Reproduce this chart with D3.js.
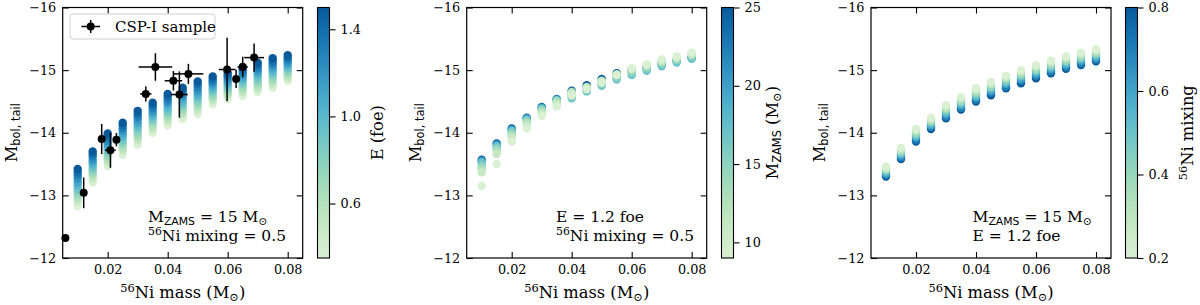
<!DOCTYPE html>
<html>
<head>
<meta charset="utf-8">
<script src="https://cdn.jsdelivr.net/npm/d3@7"></script>
<style>
  html, body { margin: 0; padding: 0; background: #fff; }
  svg { display: block; }
  text { font-family: "DejaVu Serif", serif; fill: #000; }
</style>
</head>
<body>
<svg id="chart" width="1200" height="305"></svg>
<script>
// ---------------- data ----------------
const niMass = [0.01, 0.015, 0.02, 0.025, 0.03, 0.035, 0.04, 0.045, 0.05, 0.055, 0.06, 0.065, 0.07, 0.075, 0.08];

// Panel 1: explosion energy (foe) grid, magnitudes per Ni mass (rows) and energy (columns)
const energyLevels = [0.35, 0.5, 0.6, 0.7, 0.8, 0.9, 1.0, 1.1, 1.2, 1.3, 1.4, 1.5];
const magByEnergy = [
  [-12.83, -12.91, -12.96, -13.01, -13.06, -13.11, -13.16, -13.21, -13.27, -13.32, -13.37, -13.42],
  [-13.21, -13.27, -13.32, -13.36, -13.40, -13.44, -13.49, -13.53, -13.57, -13.62, -13.66, -13.70],
  [-13.47, -13.54, -13.58, -13.63, -13.67, -13.72, -13.76, -13.81, -13.85, -13.90, -13.95, -13.99],
  [-13.65, -13.72, -13.76, -13.81, -13.85, -13.89, -13.94, -13.98, -14.03, -14.07, -14.12, -14.16],
  [-13.81, -13.88, -13.93, -13.97, -14.02, -14.07, -14.12, -14.16, -14.21, -14.26, -14.30, -14.35],
  [-14.00, -14.06, -14.10, -14.15, -14.19, -14.23, -14.27, -14.31, -14.35, -14.40, -14.44, -14.48],
  [-14.12, -14.19, -14.23, -14.27, -14.32, -14.36, -14.40, -14.45, -14.49, -14.53, -14.58, -14.62],
  [-14.22, -14.29, -14.33, -14.37, -14.42, -14.46, -14.50, -14.55, -14.59, -14.63, -14.68, -14.72],
  [-14.30, -14.37, -14.41, -14.46, -14.50, -14.55, -14.59, -14.64, -14.68, -14.73, -14.78, -14.82],
  [-14.46, -14.52, -14.56, -14.59, -14.63, -14.67, -14.71, -14.75, -14.79, -14.82, -14.86, -14.90],
  [-14.54, -14.60, -14.63, -14.67, -14.70, -14.74, -14.78, -14.81, -14.85, -14.89, -14.92, -14.96],
  [-14.59, -14.65, -14.69, -14.73, -14.77, -14.81, -14.85, -14.89, -14.93, -14.97, -15.01, -15.05],
  [-14.65, -14.71, -14.75, -14.79, -14.83, -14.88, -14.92, -14.96, -15.00, -15.04, -15.08, -15.12],
  [-14.72, -14.78, -14.82, -14.86, -14.90, -14.95, -14.99, -15.03, -15.07, -15.11, -15.15, -15.19],
  [-14.83, -14.88, -14.92, -14.96, -14.99, -15.03, -15.06, -15.10, -15.13, -15.17, -15.20, -15.24]
];

// Panel 2: progenitor mass (M_sun) grid, drawn in this order
const zamsLevels = [25, 20, 17, 15, 13, 11, 9];
const magByZams = [
  [-13.57, -13.55, -13.52, -13.47, -13.42, -13.37, -13.15],
  [-13.83, -13.81, -13.78, -13.75, -13.71, -13.66, -13.50],
  [-14.07, -14.05, -14.03, -14.00, -13.96, -13.92, -13.86],
  [-14.24, -14.23, -14.21, -14.19, -14.16, -14.12, -14.07],
  [-14.41, -14.40, -14.38, -14.37, -14.34, -14.31, -14.27],
  [-14.54, -14.53, -14.52, -14.51, -14.49, -14.46, -14.42],
  [-14.67, -14.62, -14.55, -14.58, -14.65, -14.63, -14.60],
  [-14.76, -14.71, -14.66, -14.68, -14.73, -14.72, -14.70],
  [-14.86, -14.80, -14.75, -14.78, -14.83, -14.82, -14.80],
  [-14.95, -14.90, -14.85, -14.88, -14.93, -14.93, -14.92],
  [-15.00, -14.97, -14.92, -14.96, -15.00, -15.02, -15.03],
  [-15.04, -15.02, -14.99, -15.03, -15.06, -15.08, -15.09],
  [-15.10, -15.08, -15.06, -15.10, -15.13, -15.15, -15.17],
  [-15.15, -15.14, -15.12, -15.16, -15.18, -15.20, -15.22],
  [-15.20, -15.19, -15.18, -15.22, -15.24, -15.26, -15.28]
];

// Panel 3: 56Ni mixing grid, drawn in this order
const mixingLevels = [0.8, 0.7, 0.6, 0.5, 0.4, 0.3, 0.2];
const magByMixing = [
  [-13.30, -13.33, -13.35, -13.38, -13.41, -13.43, -13.46],
  [-13.58, -13.61, -13.64, -13.67, -13.70, -13.73, -13.76],
  [-13.86, -13.89, -13.93, -13.96, -13.99, -14.03, -14.06],
  [-14.06, -14.09, -14.12, -14.15, -14.18, -14.21, -14.24],
  [-14.23, -14.26, -14.30, -14.33, -14.37, -14.40, -14.44],
  [-14.37, -14.40, -14.44, -14.47, -14.50, -14.54, -14.57],
  [-14.50, -14.53, -14.57, -14.60, -14.64, -14.67, -14.71],
  [-14.60, -14.64, -14.67, -14.71, -14.74, -14.78, -14.81],
  [-14.71, -14.74, -14.78, -14.81, -14.85, -14.88, -14.91],
  [-14.79, -14.83, -14.86, -14.90, -14.93, -14.97, -15.00],
  [-14.87, -14.91, -14.94, -14.98, -15.01, -15.05, -15.08],
  [-14.95, -14.98, -15.02, -15.05, -15.08, -15.12, -15.15],
  [-15.02, -15.05, -15.09, -15.12, -15.15, -15.19, -15.22],
  [-15.08, -15.11, -15.15, -15.18, -15.21, -15.25, -15.28],
  [-15.14, -15.17, -15.20, -15.24, -15.27, -15.30, -15.33]
];

// CSP-I sample
const cspNi     = [0.0059, 0.0120, 0.0180, 0.0209, 0.0229, 0.0327, 0.0359, 0.0419, 0.0439, 0.0469, 0.0598, 0.0628, 0.0650, 0.0688];
const cspNiErr  = [0.0000, 0.0004, 0.0006, 0.0018, 0.0008, 0.0019, 0.0056, 0.0029, 0.0028, 0.0050, 0.0028, 0.0010, 0.0017, 0.0033];
const cspMag    = [-12.32, -13.04, -13.90, -13.72, -13.89, -14.62, -15.05, -14.83, -14.61, -14.94, -15.01, -14.86, -15.05, -15.20];
const cspMagErr = [0.00, 0.245, 0.24, 0.28, 0.107, 0.12, 0.22, 0.155, 0.37, 0.16, 0.506, 0.147, 0.165, 0.226];

// ticks
const xTicks = [0.02, 0.04, 0.06, 0.08];
const yTicks = [-16, -15, -14, -13, -12];
const energyTicks = [0.6, 1.0, 1.4];
const zamsTicks = [10, 15, 20, 25];
const mixingTicks = [0.2, 0.4, 0.6, 0.8];

// ---------------- layout ----------------
const svg = d3.select("#chart");
const plotTop = 7.5, plotH = 250.5, plotW = 240;
const panelLeft = [62.7, 466.7, 871];
const cbLeft = [317.5, 721.5, 1125.5];
const cbW = 12;
const tickLen = 6;
const tickFs = 12.8;
const labelFs = 16.3;
const serif = "'DejaVu Serif', serif";

function gnbu(t) { return d3.interpolateGnBu(0.17 + 0.75 * t); }

function richText(sel, parts, fs) {
  let shift = 0;
  parts.forEach(p => {
    const ts = sel.append("tspan").text(p.t);
    let target = 0, size = fs;
    if (p.sup) { target = -0.36 * fs; size = 0.7 * fs; }
    if (p.sub) { target = 0.2 * fs; size = 0.7 * fs; }
    ts.attr("font-size", size).attr("dy", target - shift);
    if (p.sans) ts.style("font-family", "'DejaVu Sans', sans-serif");
    shift = target;
  });
}

function styleAxis(a) {
  a.attr("font-family", serif).attr("font-size", tickFs);
  a.select(".domain").remove();
  a.selectAll(".tick line").attr("stroke", "#000").attr("stroke-width", 1.1);
  a.selectAll(".tick text").style("font-family", serif).attr("font-size", tickFs).attr("fill", "#000");
}

function buildPanel(i, cfg) {
  const left = panelLeft[i];
  const x = d3.scaleLinear().domain([0.005, 0.085]).range([left, left + plotW]);
  const y = d3.scaleLinear().domain([-16, -12]).range([plotTop, plotTop + plotH]);
  const g = svg.append("g");

  // model points
  const cscale = d3.scaleLinear().domain(cfg.cdomain).range([0, 1]);
  const pts = [];
  niMass.forEach((ni, r) => {
    cfg.levels.forEach((lv, c) => pts.push({ni, lv, m: cfg.mags[r][c]}));
  });
  g.append("g").selectAll("circle").data(pts).join("circle")
    .attr("cx", d => x(d.ni)).attr("cy", d => y(d.m)).attr("r", 4.2)
    .attr("fill", d => gnbu(cscale(d.lv)));

  // axes (ticks inward on all sides)
  const bottom = g.append("g").attr("transform", `translate(0,${plotTop + plotH})`)
    .call(d3.axisBottom(x).tickValues(xTicks).tickSize(-tickLen).tickPadding(6.5).tickFormat(d3.format(".2f")));
  const top = g.append("g").attr("transform", `translate(0,${plotTop})`)
    .call(d3.axisTop(x).tickValues(xTicks).tickSize(-tickLen).tickFormat(""));
  const lft = g.append("g").attr("transform", `translate(${left},0)`)
    .call(d3.axisLeft(y).tickValues(yTicks).tickSize(-tickLen).tickPadding(6.5).tickFormat(d3.format("d")));
  const rgt = g.append("g").attr("transform", `translate(${left + plotW},0)`)
    .call(d3.axisRight(y).tickValues(yTicks).tickSize(-tickLen).tickFormat(""));
  [bottom, top, lft, rgt].forEach(styleAxis);

  // frame
  g.append("rect").attr("x", left).attr("y", plotTop).attr("width", plotW).attr("height", plotH)
    .attr("fill", "none").attr("stroke", "#000").attr("stroke-width", 1.2);

  // x label
  richText(g.append("text").attr("x", left + plotW / 2).attr("y", 298).attr("text-anchor", "middle").attr("font-size", labelFs),
    [{t: "56", sup: true}, {t: "Ni mass (M"}, {t: "\u2299", sub: true}, {t: ")"}], labelFs);

  // y label
  richText(g.append("text").attr("transform", `translate(${cfg.ylabX},${plotTop + plotH / 2}) rotate(-90)`)
      .attr("text-anchor", "middle").attr("font-size", labelFs),
    [{t: "M"}, {t: "bol, tail", sub: true, sans: true}], labelFs);

  // annotation text
  cfg.notes.forEach((parts, k) => {
    richText(g.append("text").attr("x", cfg.noteX).attr("y", 222 + k * 19).attr("font-size", 15.5), parts, 15.5);
  });

  // colorbar
  const cb = svg.append("g");
  const cy = d3.scaleLinear().domain(cfg.cdomain).range([plotTop + plotH, plotTop]);
  const gid = "grad" + i;
  const grad = svg.append("defs").append("linearGradient").attr("id", gid)
    .attr("x1", 0).attr("y1", 1).attr("x2", 0).attr("y2", 0);
  d3.range(0, 1.0001, 0.05).forEach(t => grad.append("stop").attr("offset", t).attr("stop-color", gnbu(t)));
  cb.append("rect").attr("x", cbLeft[i]).attr("y", plotTop).attr("width", cbW).attr("height", plotH)
    .attr("fill", `url(#${gid})`).attr("stroke", "#000").attr("stroke-width", 1.1);
  const cax = cb.append("g").attr("transform", `translate(${cbLeft[i] + cbW},0)`)
    .call(d3.axisRight(cy).tickValues(cfg.cticks).tickSize(tickLen).tickPadding(5).tickFormat(cfg.cfmt));
  styleAxis(cax);
  richText(cb.append("text").attr("transform", `translate(${cfg.cbLabX},${plotTop + plotH / 2}) rotate(-90)`)
      .attr("text-anchor", "middle").attr("font-size", labelFs), cfg.cbLabel, labelFs);

  return {g, x, y};
}

// Panel 1
const p1 = buildPanel(0, {
  levels: energyLevels, mags: magByEnergy, cdomain: [0.35, 1.5], cticks: energyTicks, cfmt: d3.format(".1f"),
  ylabX: 17, cbLabX: 383, noteX: 148,
  cbLabel: [{t: "E (foe)"}],
  notes: [
    [{t: "M"}, {t: "ZAMS", sub: true, sans: true}, {t: " = 15 M"}, {t: "\u2299", sub: true}],
    [{t: "56", sup: true}, {t: "Ni mixing = 0.5"}]
  ]
});

// CSP error bars + points
const csp = cspNi.map((v, k) => ({x: v, xe: cspNiErr[k], y: cspMag[k], ye: cspMagErr[k]}));
const eg = p1.g.append("g");
csp.forEach(d => {
  if (d.xe > 0) eg.append("line").attr("x1", p1.x(d.x - d.xe)).attr("x2", p1.x(d.x + d.xe))
    .attr("y1", p1.y(d.y)).attr("y2", p1.y(d.y)).attr("stroke", "#000").attr("stroke-width", 1.5);
  if (d.ye > 0) eg.append("line").attr("x1", p1.x(d.x)).attr("x2", p1.x(d.x))
    .attr("y1", p1.y(d.y - d.ye)).attr("y2", p1.y(d.y + d.ye)).attr("stroke", "#000").attr("stroke-width", 1.5);
});
eg.selectAll("circle").data(csp).join("circle")
  .attr("cx", d => p1.x(d.x)).attr("cy", d => p1.y(d.y)).attr("r", 4).attr("fill", "#000");

// legend
const lg = svg.append("g");
lg.append("rect").attr("x", 70).attr("y", 14).attr("width", 145).attr("height", 25).attr("rx", 3)
  .attr("fill", "#fff").attr("fill-opacity", 0.8).attr("stroke", "#d0d0d0").attr("stroke-width", 1);
lg.append("line").attr("x1", 81.5).attr("x2", 100).attr("y1", 26.5).attr("y2", 26.5).attr("stroke", "#000").attr("stroke-width", 1.5);
lg.append("line").attr("x1", 90.7).attr("x2", 90.7).attr("y1", 20).attr("y2", 33).attr("stroke", "#000").attr("stroke-width", 1.5);
lg.append("circle").attr("cx", 90.7).attr("cy", 26.5).attr("r", 4).attr("fill", "#000");
lg.append("text").attr("x", 115).attr("y", 31.5).attr("font-size", 15).text("CSP-I sample");

// Panel 2
buildPanel(1, {
  levels: zamsLevels, mags: magByZams, cdomain: [9, 25], cticks: zamsTicks, cfmt: d3.format("d"),
  ylabX: 421, cbLabX: 778, noteX: 556,
  cbLabel: [{t: "M"}, {t: "ZAMS", sub: true, sans: true}, {t: " (M"}, {t: "\u2299", sub: true}, {t: ")"}],
  notes: [
    [{t: "E = 1.2 foe"}],
    [{t: "56", sup: true}, {t: "Ni mixing = 0.5"}]
  ]
});

// Panel 3
buildPanel(2, {
  levels: mixingLevels, mags: magByMixing, cdomain: [0.2, 0.8], cticks: mixingTicks, cfmt: d3.format(".1f"),
  ylabX: 825, cbLabX: 1193, noteX: 972.5,
  cbLabel: [{t: "56", sup: true}, {t: "Ni mixing"}],
  notes: [
    [{t: "M"}, {t: "ZAMS", sub: true, sans: true}, {t: " = 15 M"}, {t: "\u2299", sub: true}],
    [{t: "E = 1.2 foe"}]
  ]
});
</script>
</body>
</html>
